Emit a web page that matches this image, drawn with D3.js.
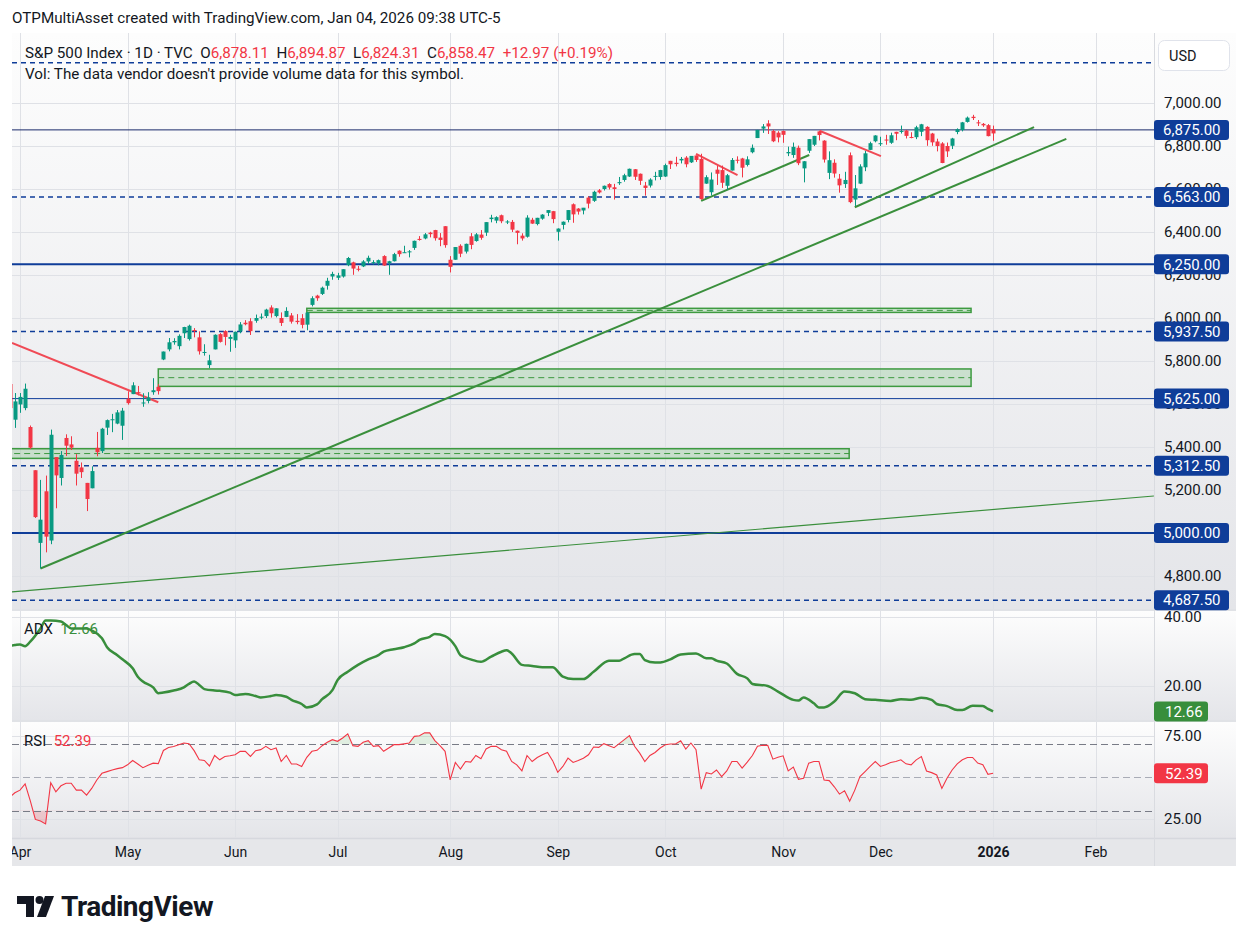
<!DOCTYPE html>
<html><head><meta charset="utf-8">
<script src="https://cdn.jsdelivr.net/npm/d3@7"></script>
<style>
body{margin:0;background:#fff;}
svg text{font-family:Roboto,"Noto Sans","DejaVu Sans",sans-serif;}
</style></head>
<body><svg id="chart" width="1248" height="944"></svg>
<script>
// ---------------- DATA ----------------
const dates = ["2025-03-28","2025-03-31",
"2025-04-01","2025-04-02","2025-04-03","2025-04-04","2025-04-07","2025-04-08","2025-04-09","2025-04-10","2025-04-11","2025-04-14","2025-04-15","2025-04-16","2025-04-17","2025-04-21","2025-04-22","2025-04-23","2025-04-24","2025-04-25","2025-04-28","2025-04-29","2025-04-30",
"2025-05-01","2025-05-02","2025-05-05","2025-05-06","2025-05-07","2025-05-08","2025-05-09","2025-05-12","2025-05-13","2025-05-14","2025-05-15","2025-05-16","2025-05-19","2025-05-20","2025-05-21","2025-05-22","2025-05-23","2025-05-27","2025-05-28","2025-05-29","2025-05-30",
"2025-06-02","2025-06-03","2025-06-04","2025-06-05","2025-06-06","2025-06-09","2025-06-10","2025-06-11","2025-06-12","2025-06-13","2025-06-16","2025-06-17","2025-06-18","2025-06-20","2025-06-23","2025-06-24","2025-06-25","2025-06-26","2025-06-27","2025-06-30",
"2025-07-01","2025-07-02","2025-07-03","2025-07-07","2025-07-08","2025-07-09","2025-07-10","2025-07-11","2025-07-14","2025-07-15","2025-07-16","2025-07-17","2025-07-18","2025-07-21","2025-07-22","2025-07-23","2025-07-24","2025-07-25","2025-07-28","2025-07-29","2025-07-30","2025-07-31",
"2025-08-01","2025-08-04","2025-08-05","2025-08-06","2025-08-07","2025-08-08","2025-08-11","2025-08-12","2025-08-13","2025-08-14","2025-08-15","2025-08-18","2025-08-19","2025-08-20","2025-08-21","2025-08-22","2025-08-25","2025-08-26","2025-08-27","2025-08-28","2025-08-29",
"2025-09-02","2025-09-03","2025-09-04","2025-09-05","2025-09-08","2025-09-09","2025-09-10","2025-09-11","2025-09-12","2025-09-15","2025-09-16","2025-09-17","2025-09-18","2025-09-19","2025-09-22","2025-09-23","2025-09-24","2025-09-25","2025-09-26","2025-09-29","2025-09-30",
"2025-10-01","2025-10-02","2025-10-03","2025-10-06","2025-10-07","2025-10-08","2025-10-09","2025-10-10","2025-10-13","2025-10-14","2025-10-15","2025-10-16","2025-10-17","2025-10-20","2025-10-21","2025-10-22","2025-10-23","2025-10-24","2025-10-27","2025-10-28","2025-10-29","2025-10-30","2025-10-31",
"2025-11-03","2025-11-04","2025-11-05","2025-11-06","2025-11-07","2025-11-10","2025-11-11","2025-11-12","2025-11-13","2025-11-14","2025-11-17","2025-11-18","2025-11-19","2025-11-20","2025-11-21","2025-11-24","2025-11-25","2025-11-26","2025-11-28",
"2025-12-01","2025-12-02","2025-12-03","2025-12-04","2025-12-05","2025-12-08","2025-12-09","2025-12-10","2025-12-11","2025-12-12","2025-12-15","2025-12-16","2025-12-17","2025-12-18","2025-12-19","2025-12-22","2025-12-23","2025-12-24","2025-12-26","2025-12-29","2025-12-30","2025-12-31",
"2026-01-02"];

const open = [5693,5527,5598,5581,5493,5292,4954,5194,4965,5353,
5256,5442,5412,5336,5305,5233,5208,5396,5381,5490,
5529,5509,5499,5625,5646,5655,5606,5614,5655,5680,
5807,5854,5887,5869,5929,5902,5944,5910,5841,5781,
5854,5925,5939,5903,5896,5938,5978,5985,5987,6004,
6009,6049,6009,6000,6005,6012,5987,5999,5969,6061,
6104,6112,6150,6193,6187,6193,6246,6259,6229,6240,
6263,6256,6255,6288,6255,6264,6313,6304,6306,6326,
6368,6370,6397,6409,6374,6427,6271,6271,6336,6309,
6380,6358,6388,6397,6460,6453,6478,6445,6447,6406,
6383,6378,6457,6437,6462,6489,6497,6401,6433,6456,
6529,6509,6500,6560,6545,6594,6600,6623,6608,6627,
6642,6658,6692,6671,6616,6616,6661,6656,6658,6731,
6722,6733,6746,6724,6756,6740,6625,6585,6690,6688,
6615,6686,6736,6742,6712,6771,6837,6881,6905,6870,
6862,6870,6766,6758,6792,6696,6778,6806,6868,6825,
6675,6722,6648,6623,6757,6551,6625,6701,6782,6822,
6812,6830,6815,6866,6866,6872,6842,6841,6866,6889,
6858,6821,6812,6800,6801,6865,6874,6912,6936,6910,
6903,6897,6878.11];
const high = [5695,5651,5651,5695,5500,5292,5247,5267,5481,5353,
5381,5459,5450,5367,5328,5233,5310,5470,5489,5528,
5554,5572,5582,5659,5701,5684,5650,5655,5720,5692,
5844,5907,5906,5924,5959,5969,5953,5938,5878,5829,
5924,5930,5943,5922,5937,5981,5990,5999,6016,6021,
6043,6059,6045,6026,6050,6023,6018,6018,6028,6101,
6108,6146,6187,6215,6210,6227,6284,6262,6242,6269,
6290,6269,6272,6292,6266,6303,6315,6336,6316,6360,
6381,6395,6401,6410,6395,6427,6288,6330,6343,6346,
6395,6395,6409,6446,6480,6473,6481,6455,6456,6407,
6394,6478,6466,6466,6483,6502,6498,6417,6449,6502,
6533,6511,6512,6566,6592,6600,6616,6627,6624,6656,
6671,6695,6693,6672,6633,6650,6680,6689,6718,6731,
6750,6749,6753,6753,6756,6764,6664,6677,6709,6709,
6670,6744,6752,6745,6752,6807,6875,6902,6920,6876,
6869,6872,6797,6816,6802,6730,6832,6847,6869,6827,
6775,6738,6670,6680,6770,6665,6715,6777,6820,6850,
6843,6852,6862,6866,6895,6875,6864,6894,6903,6892,
6861,6834,6818,6816,6838,6882,6912,6937,6945,6921,
6907,6902,6894.87];
const low = [5572,5489,5559,5571,5391,5070,4835,4910,4948,5115,
5221,5358,5386,5221,5256,5102,5208,5357,5372,5456,
5469,5506,5433,5597,5646,5640,5587,5603,5643,5644,
5804,5845,5876,5854,5907,5895,5910,5830,5825,5767,
5854,5886,5873,5843,5861,5929,5966,5921,5978,5994,
6000,6002,6003,5963,6004,5974,5971,5952,5943,6054,
6080,6107,6132,6178,6177,6188,6241,6201,6217,6237,
6252,6249,6245,6243,6201,6263,6285,6303,6282,6317,
6360,6366,6375,6360,6334,6327,6212,6271,6283,6300,
6320,6355,6364,6382,6445,6441,6441,6437,6400,6343,
6360,6374,6438,6431,6457,6474,6441,6360,6412,6445,
6443,6481,6482,6510,6540,6579,6593,6598,6551,6619,
6634,6656,6642,6619,6569,6607,6640,6643,6656,6693,
6705,6719,6701,6721,6726,6550,6624,6570,6619,6605,
6596,6686,6719,6654,6705,6766,6837,6861,6856,6818,
6817,6815,6753,6745,6711,6631,6768,6800,6826,6723,
6646,6653,6583,6605,6534,6521,6623,6683,6781,6817,
6800,6806,6810,6827,6858,6835,6836,6832,6846,6801,
6801,6775,6720,6749,6786,6855,6868,6909,6921,6893,
6889,6845,6824.31];
const close = [5581,5612,5633,5671,5397,5074,5062,4983,5457,5268,
5363,5406,5397,5276,5283,5158,5288,5376,5485,5525,
5529,5561,5569,5604,5687,5650,5607,5631,5664,5660,
5844,5887,5893,5917,5958,5964,5940,5845,5842,5803,
5922,5889,5912,5912,5936,5970,5971,5939,6000,6006,
6039,6022,6045,5977,6033,5983,5981,5968,6025,6092,
6092,6141,6173,6205,6198,6227,6279,6230,6226,6263,
6280,6260,6269,6244,6264,6297,6297,6306,6310,6359,
6363,6389,6390,6371,6363,6339,6238,6330,6299,6345,
6340,6389,6373,6446,6467,6469,6450,6449,6411,6396,
6370,6467,6439,6466,6481,6502,6460,6416,6448,6502,
6482,6495,6513,6532,6587,6584,6615,6607,6600,6632,
6664,6694,6657,6638,6605,6644,6661,6688,6711,6715,
6716,6740,6715,6754,6735,6553,6655,6644,6671,6629,
6664,6735,6735,6699,6738,6792,6875,6891,6891,6822,
6840,6852,6772,6796,6720,6729,6832,6847,6851,6737,
6734,6672,6617,6642,6539,6603,6705,6766,6813,6849,
6813,6829,6850,6857,6870,6847,6841,6887,6901,6827,
6817,6800,6721,6775,6835,6878,6910,6932,6930,6906,
6896,6846,6858.47];

// RSI(14) read per bar
const rsi = [38,40.7,42.3,46,36,24.7,23.7,22,46.7,41.3,
44.9,46.4,46.4,42.3,42.3,39.3,43.3,48.4,52.4,53.4,
54.4,55.2,55.8,57.5,60.1,58,55.8,57.3,58.5,58.2,
66.1,67.9,68.5,69.6,70.6,70.2,66,60.5,60.1,56.8,
63.1,60.5,62.5,62.9,63.5,65.6,65.6,62.5,66,66.6,
68.6,66.6,67.6,59.5,63.1,58,58,56.5,62,65.6,
66.2,69,71,72.6,71.6,73.6,76.1,69,68.6,71,
72,68.6,69,65.6,67.6,69.6,69.6,70.1,70.6,74.6,
75,76.7,76.7,72,69,65.6,48.4,58.9,55,59.5,
59.1,63.1,61.1,67,68.6,68.6,66.6,65.6,59.5,57.5,
53.8,63.1,59.5,61.9,63.5,64.9,60,53,56.5,61.5,
58.9,60.1,61.5,63.5,68.2,68,70.2,69,67.8,70.2,
72.6,75,68.6,64.5,59.5,63.1,64.9,67.6,69.6,70,
70,72,67,70.6,66.6,42.9,52.8,52,54.4,50.4,
53.8,59.5,59.5,55.5,59.1,63.1,68.6,69.2,69.2,60.9,
62.1,62.9,53.8,56.1,48.8,49.4,58.5,59.5,59.5,48.4,
48,44.3,39.9,41.9,35.7,42.3,50.4,53.4,56.5,59.5,
56.5,57.5,58.9,59.5,60.5,58.1,57.5,60.5,62.5,53.8,
52.8,51.4,43.3,49.4,54.4,58.1,60.5,61.9,61.9,58.5,
57.5,51.8,52.39];

// ADX(14) samples: bar number and value
const adxBar = [0,1,2,3,4,6,7,8,10,11,12,14,15,16,18,19,21,22,24,25,26,28,29,30,32,34,35,36,37,38,40,41,43,44,46,48,49,51,52,54,55,57,58,60,61,63,64,66,68,70,72,73,75,77,79,80,82,83,85,87,88,90,92,94,96,97,98,100,102,104,106,108,110,112,114,117,119,120,122,123,124,126,127,129,131,134,136,137,138,140,142,144,145,148,150,153,154,155,157,158,159,161,163,165,167,169,172,174,176,178,180,181,183,185,186,188,190,191,192];
const adxVal = [31.6,31.8,32,31.5,32.8,36.6,38.9,38.9,38.6,37.6,36.6,36.6,36.6,36,33.8,31.2,28.9,27.7,25.1,22.7,21.3,19.6,17.9,18.1,18.7,19.6,20.6,21.3,20.3,19.1,18.7,18.6,18.1,17.4,17.7,17.1,16.7,17.1,17.4,16.9,16,14.8,13.8,14.7,16.2,18.8,21.7,24.1,26.1,27.7,28.9,29.9,30.6,31.2,32.3,33.3,34.2,35,34.4,31.5,28.9,27.7,27,28.5,29.9,30.3,29.4,26.1,25.8,25.4,25.4,22.7,22,22,24.1,27.3,27.3,28,29.2,29.2,27.5,26.8,26.8,27.7,29.1,29.4,28,28,27.3,26.5,23.5,22.2,20.6,20,18.4,16,15.8,16.7,15,13.8,13.8,15.5,18.4,17.9,16.2,16,15.7,16.2,16,16.6,16,14.8,14.2,13.1,13.1,14.3,14.2,13.4,12.66];

// time axis ticks
const monthLabels = ["Apr","May","Jun","Jul","Aug","Sep","Oct","Nov","Dec","2026","Feb"];
const monthBars = [2,23,44,64,86,107,128,151,170,192,212];
// price axis ticks
const priceTicks = [4800,5000,5200,5400,5600,5800,6000,6200,6400,6600,6800,7000];
const adxTicks = [20,40];
const rsiTicks = [25,75];
// horizontal levels
const levelPrices = [4687.5,5000,5312.5,5625,5937.5,6250,6563,6875,7187.5];
const levelKinds = ["dash","thick","dash","thin","dash","thick","dash","thin","dash"];
// drawings: [bar1, price1, bar2, price2]
const greenLines = [[6,4835,206.3,6833],[0.44,4726,223.4,5172],[135,6545,156.1,6758],[165,6515,200,6888]];
const redLines = [[0.44,5884,29,5608],[134,6763,142.1,6665],[158.1,6871,170.1,6753]];
// zones: [bar1, bar2, priceTop, priceBottom]
const zones = [[58,187.7,6045,6026],[29,187.7,5763,5682],[-5,163.9,5392,5347]];

// ---------------- LAYOUT ----------------
const L=12, R=1154, AXR=1236;
const mainTop=33, mainBot=609, adxTop=611, adxBot=720, rsiTop=722, rsiBot=838, tTop=839, tBot=866;
const UP="#089981", DN="#f23645", BLUE="#0f3d99";
const FS = "15px";

const svg = d3.select("#chart");
const defs = svg.append("defs");
const grad = defs.append("linearGradient").attr("id","bg").attr("x1",0).attr("y1",0).attr("x2",0).attr("y2",1);
grad.append("stop").attr("offset","0%").attr("stop-color","#fdfdfd");
grad.append("stop").attr("offset","100%").attr("stop-color","#e4e5e9");
function clip(id,x0,y0,x1,y1){defs.append("clipPath").attr("id",id).append("rect").attr("x",x0).attr("y",y0).attr("width",x1-x0).attr("height",y1-y0);}
clip("cMain",L,mainTop,R,mainBot);
clip("cAdx",L,adxTop,R,adxBot);
clip("cRsi",L,rsiTop,R,rsiBot);
clip("cTime",L,tTop,R,tBot);

const x = d3.scaleLinear().domain([0.4393,223.42]).range([L,R]);
const y = d3.scaleLinear().domain([4646.5,7325.6]).range([mainBot,mainTop]);
const yA = d3.scaleLinear().domain([20,40]).range([686,616.7]);
const yR = d3.scaleLinear().domain([50,70]).range([777.3,744]);

// pane backgrounds
[[mainTop,mainBot],[adxTop,adxBot],[rsiTop,rsiBot]].forEach(([a,b])=>{
  svg.append("rect").attr("x",L).attr("y",a).attr("width",AXR-L).attr("height",b-a).attr("fill","url(#bg)");
});
svg.append("rect").attr("x",L).attr("y",tTop).attr("width",AXR-L).attr("height",tBot-tTop).attr("fill","#e6e7ea");
// separators
[mainBot+1,adxBot+1,rsiBot+0.5].forEach(v=>svg.append("line").attr("x1",L).attr("x2",AXR).attr("y1",v).attr("y2",v).attr("stroke","#d6d8de").attr("stroke-width",1.5));
svg.append("line").attr("x1",R+0.5).attr("x2",R+0.5).attr("y1",mainTop).attr("y2",tBot).attr("stroke","#d9dbe0");

// grid
const grid = svg.append("g").attr("stroke","#dfe1e6").attr("stroke-width",1);
monthBars.forEach(b=>{const xx=Math.round(x(b))+0.5;
  grid.append("line").attr("x1",xx).attr("x2",xx).attr("y1",mainTop).attr("y2",rsiBot);});
priceTicks.forEach(p=>grid.append("line").attr("x1",L).attr("x2",R).attr("y1",Math.round(y(p))+0.5).attr("y2",Math.round(y(p))+0.5));
adxTicks.forEach(p=>grid.append("line").attr("x1",L).attr("x2",R).attr("y1",Math.round(yA(p))+0.5).attr("y2",Math.round(yA(p))+0.5));
rsiTicks.forEach(p=>grid.append("line").attr("x1",L).attr("x2",R).attr("y1",Math.round(yR(p))+0.5).attr("y2",Math.round(yR(p))+0.5));

// ---------- main pane ----------
const gm = svg.append("g").attr("clip-path","url(#cMain)");
zones.forEach(z=>{
  const x0=x(z[0]), x1=x(z[1]), y0=y(z[2]), y1=y(z[3]);
  gm.append("rect").attr("x",x0).attr("y",y0).attr("width",x1-x0).attr("height",y1-y0)
    .attr("fill","rgba(76,175,80,0.22)").attr("stroke","#3d9a40").attr("stroke-width",1.5);
  gm.append("line").attr("x1",x0).attr("x2",x1).attr("y1",(y0+y1)/2).attr("y2",(y0+y1)/2)
    .attr("stroke","#3d9a40").attr("stroke-width",1).attr("stroke-dasharray","6,4");
});
const levelStyle = {dash:{w:1.5,d:"5,4"},thick:{w:2.2,d:null},thin:{w:1,d:null}};
levelPrices.forEach((p,i)=>{
  const st=levelStyle[levelKinds[i]]; const yy=y(p);
  gm.append("line").attr("x1",L).attr("x2",R).attr("y1",yy).attr("y2",yy)
    .attr("stroke",levelKinds[i]==="thin"&&p>6800?"#1a2a6b":BLUE).attr("stroke-width",st.w)
    .attr("stroke-dasharray",st.d);
});
const lineG = gm.append("g").attr("fill","none");
greenLines.forEach((l,i)=>lineG.append("line").attr("x1",x(l[0])).attr("y1",y(l[1])).attr("x2",x(l[2])).attr("y2",y(l[3]))
  .attr("stroke","#3a8f3c").attr("stroke-width",i===1?1.2:2));
redLines.forEach(l=>lineG.append("line").attr("x1",x(l[0])).attr("y1",y(l[1])).attr("x2",x(l[2])).attr("y2",y(l[3]))
  .attr("stroke","#f04a55").attr("stroke-width",2));
const cg = gm.append("g");
dates.forEach((d,i)=>{
  const cx=Math.round(x(i)); const col=close[i]>=open[i]?UP:DN;
  cg.append("rect").attr("x",cx).attr("y",y(high[i])).attr("width",1).attr("height",Math.max(1,y(low[i])-y(high[i]))).attr("fill",col);
  const t=y(Math.max(open[i],close[i])), b=y(Math.min(open[i],close[i]));
  cg.append("rect").attr("x",cx-1.5).attr("y",t).attr("width",4).attr("height",Math.max(1,b-t)).attr("fill",col);
});

// ---------- ADX pane ----------
const ga = svg.append("g").attr("clip-path","url(#cAdx)");
ga.append("path").datum(adxBar.map((b,i)=>[b,adxVal[i]]))
  .attr("d",d3.line().x(d=>x(d[0])).y(d=>yA(d[1])).curve(d3.curveMonotoneX))
  .attr("fill","none").attr("stroke","#388e3c").attr("stroke-width",2.5).attr("stroke-linejoin","round");

// ---------- RSI pane ----------
const gr = svg.append("g").attr("clip-path","url(#cRsi)");
clip("cOver",L,rsiTop,R,yR(70)); clip("cUnder",L,yR(30),R,rsiBot);
const rsiPts = rsi.map((v,i)=>[i,v]);
gr.append("path").datum(rsiPts).attr("clip-path","url(#cOver)")
  .attr("d",d3.area().x(d=>x(d[0])).y0(yR(70)).y1(d=>yR(d[1]))).attr("fill","rgba(76,175,80,0.14)");
gr.append("path").datum(rsiPts).attr("clip-path","url(#cUnder)")
  .attr("d",d3.area().x(d=>x(d[0])).y0(yR(30)).y1(d=>yR(d[1]))).attr("fill","rgba(242,54,69,0.2)");
[[70,"#787b86"],[50,"#a9acb6"],[30,"#787b86"]].forEach(([v,c])=>
  gr.append("line").attr("x1",L).attr("x2",R).attr("y1",Math.round(yR(v))+0.5).attr("y2",Math.round(yR(v))+0.5)
    .attr("stroke",c).attr("stroke-width",1).attr("stroke-dasharray","7,4"));
gr.append("path").datum(rsiPts).attr("d",d3.line().x(d=>x(d[0])).y(d=>yR(d[1])))
  .attr("fill","none").attr("stroke","#f23645").attr("stroke-width",1.1);

// ---------- axes ----------
function styleAxis(g){g.select(".domain").remove();g.selectAll("line").remove();
  g.selectAll("text").attr("fill","#131722").style("font-size",FS).style("font-family","Roboto,sans-serif");}
svg.append("g").attr("transform",`translate(${R},0)`)
  .call(d3.axisRight(y).tickValues(priceTicks).tickFormat(d3.format(",.2f")).tickSize(0).tickPadding(10)).call(styleAxis);
svg.append("g").attr("transform",`translate(${R},0)`)
  .call(d3.axisRight(yA).tickValues(adxTicks).tickFormat(d3.format(".2f")).tickSize(0).tickPadding(10)).call(styleAxis);
svg.append("g").attr("transform",`translate(${R},0)`)
  .call(d3.axisRight(yR).tickValues(rsiTicks).tickFormat(d3.format(".2f")).tickSize(0).tickPadding(10)).call(styleAxis);
const ta = svg.append("g").attr("clip-path","url(#cTime)").append("g").attr("transform",`translate(0,${tTop})`)
  .call(d3.axisBottom(x).tickValues(monthBars).tickFormat((d,i)=>monthLabels[i]).tickSize(0)).call(styleAxis);
ta.selectAll("text").attr("y",13).attr("dy","0.35em").style("font-size","14px")
  .style("font-weight",(d,i)=>monthLabels[i]==="2026"?"700":"400");

// level labels (7,187.50 label sits under the USD box and is not visible)
const fmt = d3.format(",.2f");
levelPrices.filter(p=>y(p)>80).forEach(p=>{
  const yy=y(p);
  svg.append("rect").attr("x",R).attr("y",yy-10).attr("width",75).attr("height",20).attr("rx",3).attr("fill",BLUE);
  svg.append("text").attr("x",R+9).attr("y",yy).attr("dy","0.35em").attr("fill","#fff").style("font-size",FS).text(fmt(p));
});
function valLabel(yy,col,txt){
  svg.append("rect").attr("x",R).attr("y",yy-10).attr("width",54).attr("height",20).attr("rx",3).attr("fill",col);
  svg.append("text").attr("x",R+11).attr("y",yy).attr("dy","0.35em").attr("fill","#fff").style("font-size",FS).text(txt);
}
valLabel(yA(adxVal[adxVal.length-1]),"#388e3c",d3.format(".2f")(adxVal[adxVal.length-1]));
valLabel(yR(rsi[rsi.length-1]),"#f23645",d3.format(".2f")(rsi[rsi.length-1]));

// USD box
svg.append("rect").attr("x",1158.5).attr("y",40.5).attr("width",71).attr("height",30).attr("rx",6).attr("fill","#fff").attr("stroke","#e0e3eb");
svg.append("text").attr("x",1169).attr("y",55.5).attr("dy","0.35em").attr("fill","#131722").style("font-size","14.5px").text("USD");

// ---------- texts ----------
svg.append("text").attr("x",12).attr("y",18).attr("dy","0.35em").attr("fill","#131722").style("font-size","15.2px")
  .text("OTPMultiAsset created with TradingView.com, Jan 04, 2026 09:38 UTC-5");
const last = dates.length-1;
const lg = svg.append("text").attr("x",25).attr("y",53).attr("dy","0.35em").style("font-size","15.2px").attr("fill","#131722").attr("xml:space","preserve");
lg.append("tspan").text("S&P 500 Index · 1D · TVC  O");
lg.append("tspan").attr("fill",DN).text(fmt(open[last]));
lg.append("tspan").text("  H");
lg.append("tspan").attr("fill",DN).text(fmt(high[last]));
lg.append("tspan").text("  L");
lg.append("tspan").attr("fill",DN).text(fmt(low[last]));
lg.append("tspan").text("  C");
lg.append("tspan").attr("fill",DN).text(fmt(close[last]));
lg.append("tspan").attr("fill",DN).text("  +"+d3.format(".2f")(12.97)+" (+0.19%)");
svg.append("text").attr("x",25).attr("y",74).attr("dy","0.35em").style("font-size","15.2px").attr("fill","#131722")
  .text("Vol: The data vendor doesn't provide volume data for this symbol.");
const al = svg.append("text").attr("x",24).attr("y",629).attr("dy","0.35em").style("font-size","15px").attr("xml:space","preserve");
al.append("tspan").attr("fill","#131722").text("ADX  ");
al.append("tspan").attr("fill","#388e3c").text(d3.format(".2f")(adxVal[adxVal.length-1]));
const rl = svg.append("text").attr("x",24).attr("y",741).attr("dy","0.35em").style("font-size","15px").attr("xml:space","preserve");
rl.append("tspan").attr("fill","#131722").text("RSI  ");
rl.append("tspan").attr("fill","#f23645").text(d3.format(".2f")(rsi[rsi.length-1]));

// logo
const lgG = svg.append("g").attr("fill","#131722");
lgG.append("path").attr("d","M17,896 H34 V917 H26 V904 H17 Z");
lgG.append("circle").attr("cx",39.5).attr("cy",900).attr("r",4);
lgG.append("path").attr("d","M45,896 H54 L46,917 H37 Z");
svg.append("text").attr("x",61).attr("y",906).attr("dy","0.35em").attr("fill","#131722")
  .style("font-size","28px").style("font-weight","700").style("letter-spacing","-0.5px").text("TradingView");
</script></body></html>
